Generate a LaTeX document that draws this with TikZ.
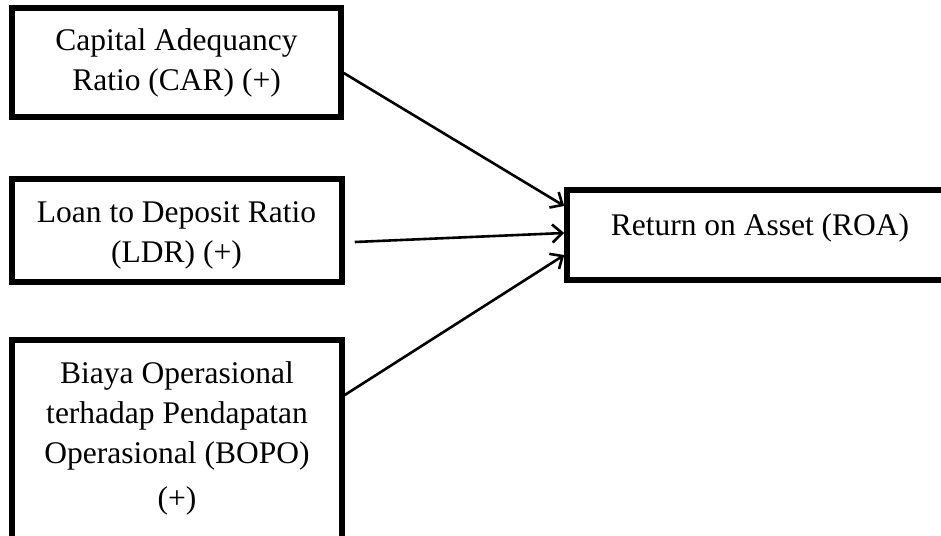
\documentclass[tikz,border=0pt]{standalone}
\usepackage{fontspec}
\setmainfont{Liberation Serif}
\usetikzlibrary{arrows.meta,calc}
\begin{document}
\begin{tikzpicture}[x=1pt,y=-1pt,
  boxnode/.style={draw=black, line width=5.5pt, rectangle, inner sep=0pt, fill=white},
  label text/.style={anchor=base, inner sep=0pt, font=\fontsize{31.5}{40}\selectfont},
  link/.style={line width=2.6pt, -{Straight Barb[length=10pt,width=18pt,line width=2.6pt]}}
]
\useasboundingbox (0,0) rectangle (941,535);
\clip (0,0) rectangle (941,535);
\fill[white] (0,0) rectangle (941,535);

% boxes
\node[boxnode, minimum width=329pt, minimum height=109pt] (car) at (176.5,62.5) {};
\node[boxnode, minimum width=330pt, minimum height=103pt] (ldr) at (177,230.5) {};
\node[boxnode, minimum width=330pt, minimum height=230pt] (bopo) at (177,455) {};
\node[boxnode, minimum width=420pt, minimum height=90pt] (roa) at (777,235) {};

% texts
\node[label text] (cart) at (176.5,50) {\begin{tabular}[t]{@{}c@{}}Capital Adequancy\\Ratio (CAR) (+)\end{tabular}};
\node[label text] (ldrt) at (176.5,222) {\begin{tabular}[t]{@{}c@{}}Loan to Deposit Ratio\\(LDR) (+)\end{tabular}};
\node[label text] (bopot) at (177,383) {\begin{tabular}[t]{@{}c@{}}Biaya Operasional\\terhadap Pendapatan\\Operasional (BOPO)\\[5pt](+)\end{tabular}};
\node[label text] (roat) at (760,235) {Return on Asset (ROA)};

% connectors
\draw[link] ($(car.east)+(0,10.5)$) -- ($(roa.west)+(0,-29)$);
\draw[link] ($(ldr.east)+(10,11.5)$) -- ($(roa.west)+(0,-2)$);
\draw[link] ($(bopo.east)+(0,-60)$) -- ($(roa.west)+(0,20)$);
\end{tikzpicture}
\end{document}
